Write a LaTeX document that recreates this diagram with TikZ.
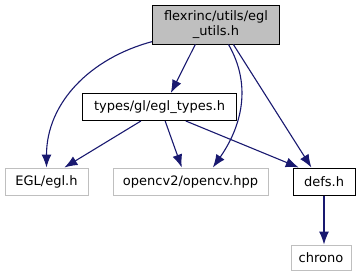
\documentclass[tikz,border=0pt]{standalone}
\usepackage{fontspec}
\setmainfont{DejaVu Sans}
\usetikzlibrary{positioning, arrows.meta}
\definecolor{edgeblue}{HTML}{191970}
\definecolor{extgray}{HTML}{BFBFBF}
\tikzset{
    file/.style={draw=black, line width=1pt, rectangle, inner sep=2pt,
        minimum height=27pt, font=\fontsize{13}{15.5}\selectfont},
    extfile/.style={file, draw=extgray},
    inc/.style={draw=edgeblue, line width=1.1pt, -{Latex[length=13pt,width=10pt]}}
}

\begin{document}
\begin{tikzpicture}[x=1pt, y=1pt, on grid]
      \useasboundingbox (0,0) rectangle (363,-276);
      \node[file, fill=extgray, minimum width=127pt, minimum height=39pt, align=center] (egl_utils) at (216,-24.5) {flexrinc/utils/egl\\\_utils.h};
      \node[file, minimum width=154pt] (egl_types) [below left = 82.5pt and 56.5pt of egl_utils] {types/gl/egl\_types.h};
      \node[extfile, minimum width=83pt] (egl) [below left = 74.5pt and 113pt of egl_types] {EGL/egl.h};
      \node[extfile, minimum width=155pt] (opencv) [below right = 74.5pt and 31pt of egl_types] {opencv2/opencv.hpp};
      \node[file, minimum width=62pt] (defs) [below right = 74.5pt and 164.5pt of egl_types] {defs.h};
      \node[extfile, minimum width=60pt, minimum height=25pt] (chrono) [below left = 76pt and 3pt of defs] {chrono};

      % include edges
      \draw[inc] (egl_utils.195) to[out=195, in=90] (egl.north);
      \draw[inc] (egl_utils.224) -- (egl_types.51);
      \draw[inc] (egl_utils.-58) to[out=-60, in=55] (opencv.32);
      \draw[inc] (egl_utils.-49) -- (defs.132);
      \draw[inc] (egl_types.217) -- (egl.38);
      \draw[inc] (egl_types.-68) -- (opencv.122);
      \draw[inc] (egl_types.-28) -- (defs.151);
      \draw[inc] (defs.south) -- (defs.south |- chrono.north);
     \end{tikzpicture}
\end{document}
